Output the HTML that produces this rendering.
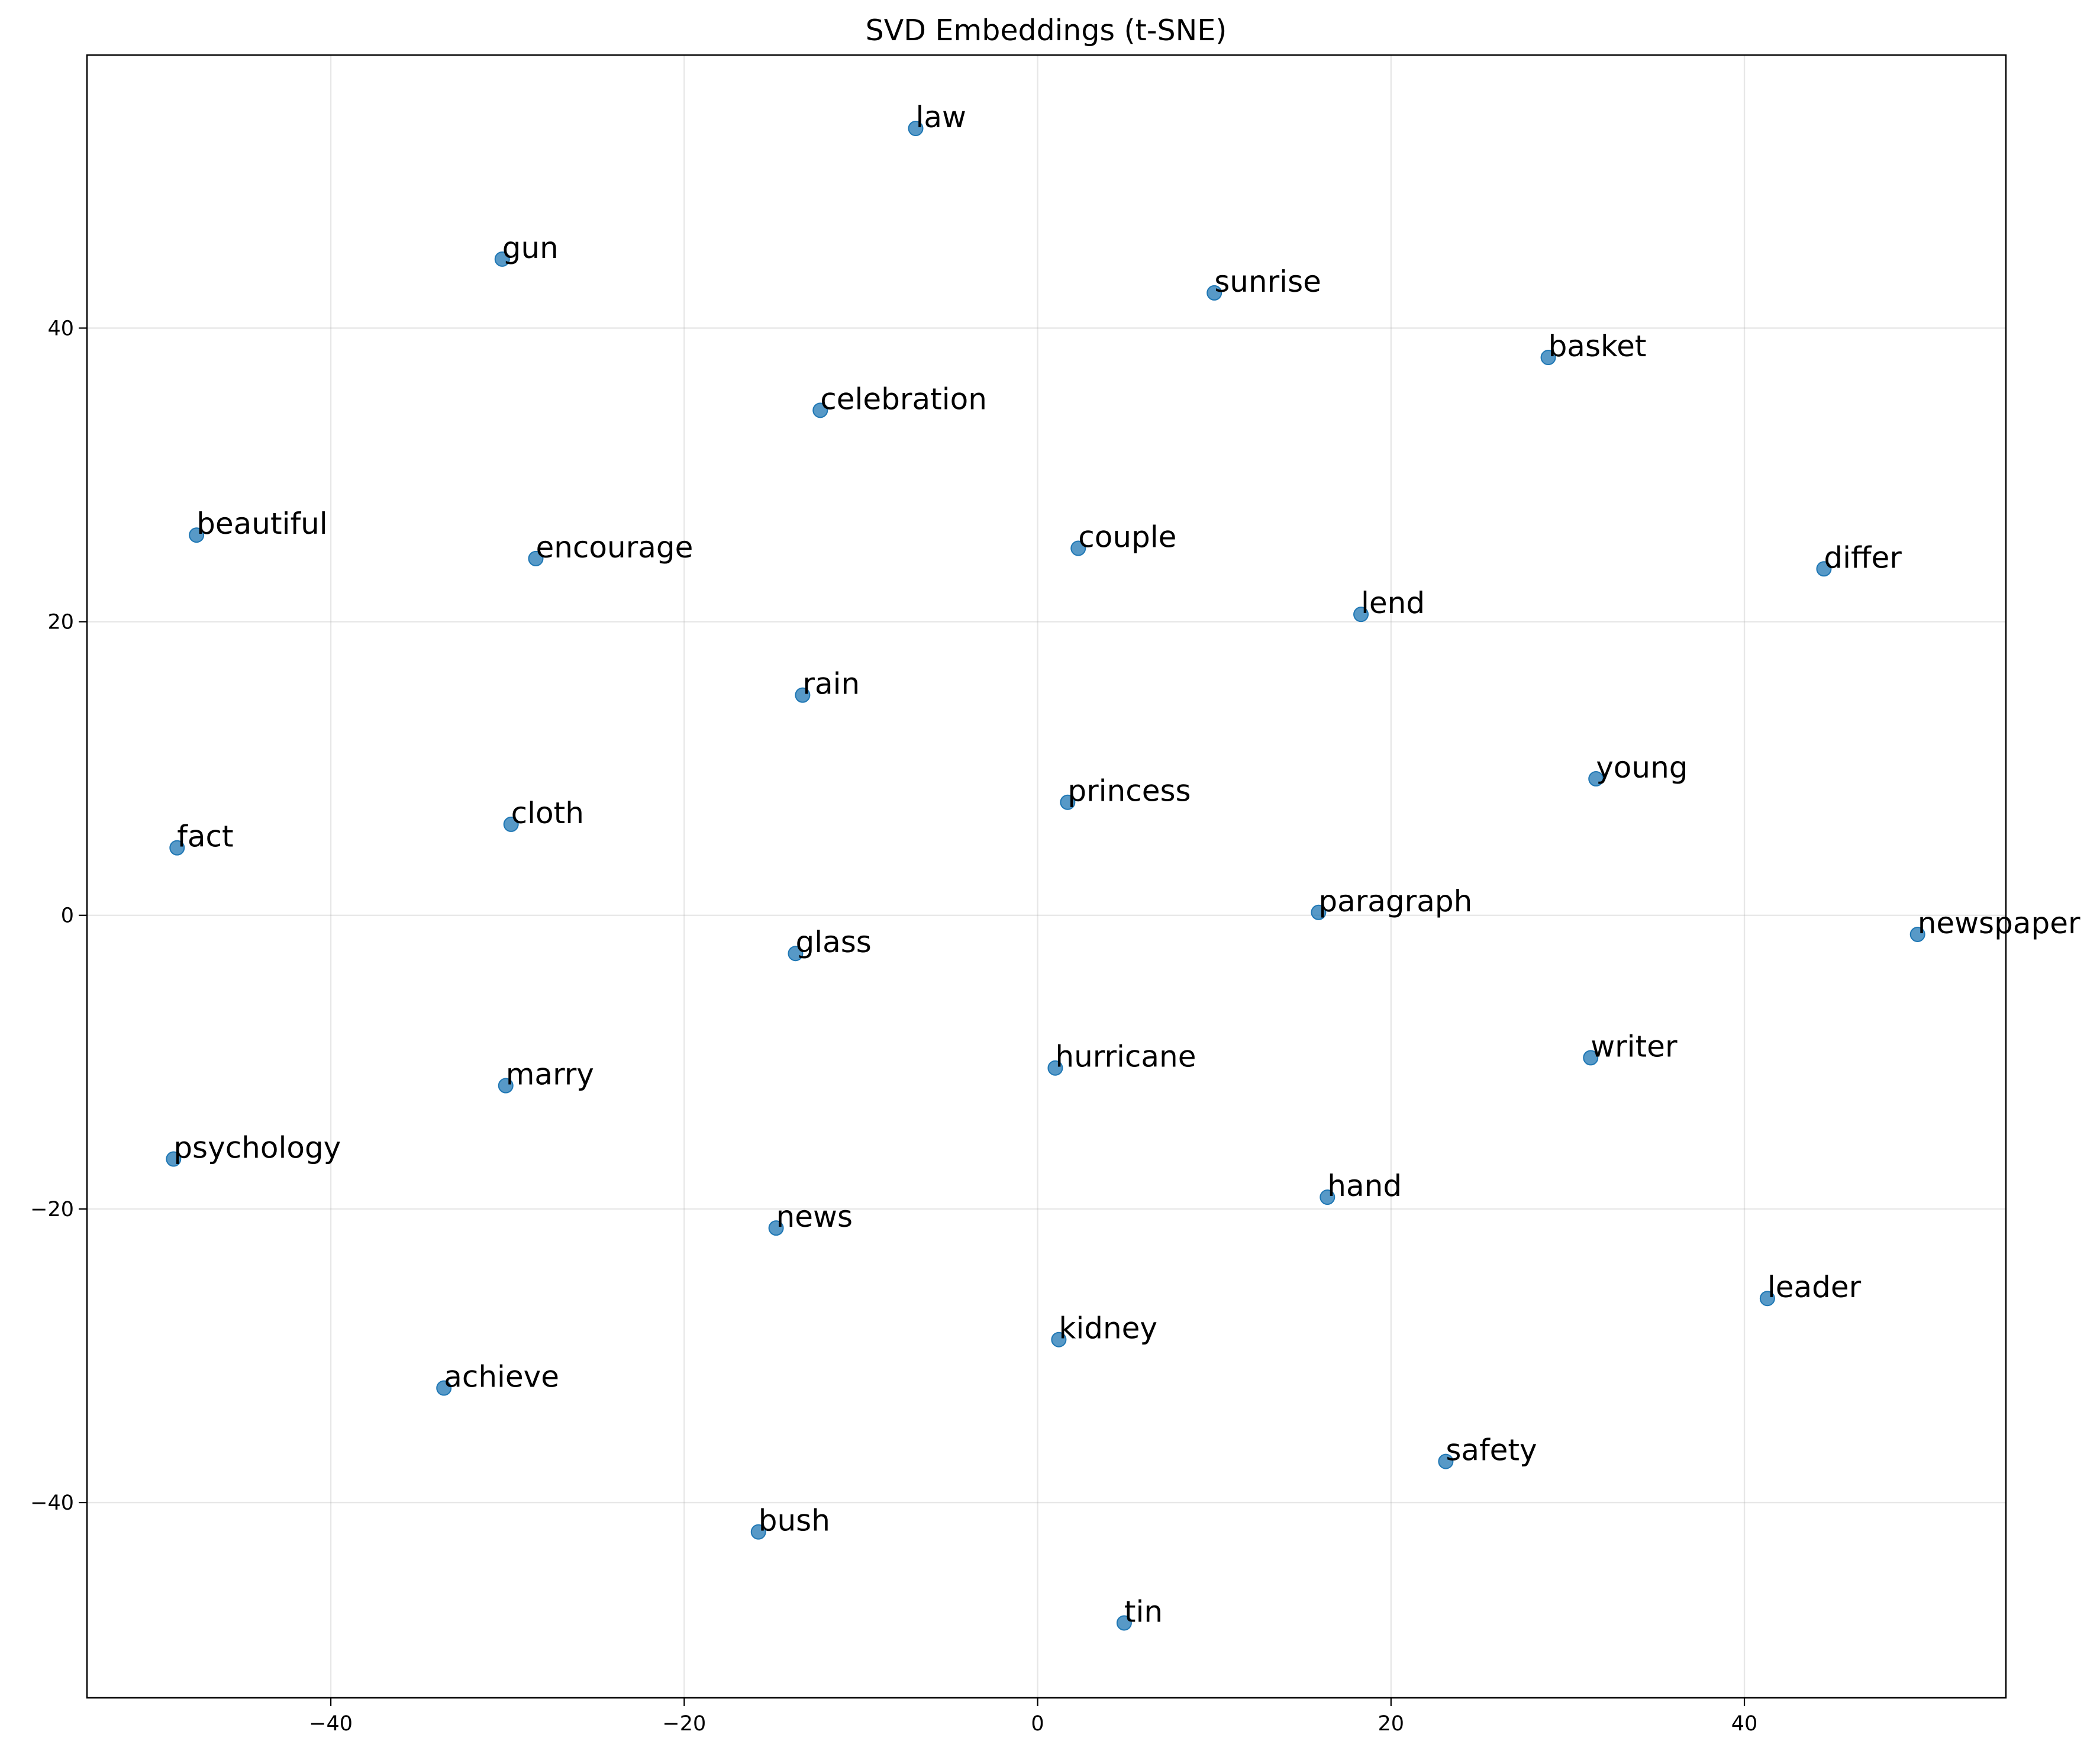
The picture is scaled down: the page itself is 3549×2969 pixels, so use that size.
<!DOCTYPE html>
<html><head><meta charset="utf-8"><style>
html,body{margin:0;padding:0;background:#fff}
svg{display:block}
text{font-family:"DejaVu Sans","Liberation Sans",sans-serif}
</style></head><body>
<svg id="chart" width="3549" height="2969" viewBox="0 0 3549 2969" xmlns="http://www.w3.org/2000/svg">
<text x="1768" y="68" font-size="49" text-anchor="middle">SVD Embeddings (t-SNE)</text>
<g id="grid"></g>
<g id="points"></g>
<g id="labels"></g>
<g id="axes"></g>
</svg>
<script>
const words = ["law","gun","sunrise","basket","celebration","beautiful","encourage","couple","differ","lend","rain","young","princess","cloth","fact","paragraph","newspaper","glass","writer","hurricane","marry","psychology","hand","news","leader","kidney","achieve","safety","bush","tin"];
const xs = [-6.9,-30.3,10.0,28.9,-12.3,-47.6,-28.4,2.3,44.5,18.3,-13.3,31.6,1.7,-29.8,-48.7,15.9,49.8,-13.7,31.3,1.0,-30.1,-48.9,16.4,-14.8,41.3,1.2,-33.6,23.1,-15.8,4.9];
const ys = [53.6,44.7,42.4,38.0,34.4,25.9,24.3,25.0,23.6,20.5,15.0,9.3,7.7,6.2,4.6,0.2,-1.3,-2.6,-9.7,-10.4,-11.6,-16.6,-19.2,-21.3,-26.1,-28.9,-32.2,-37.2,-42.0,-48.2];
const xTicks = [-40,-20,0,20,40];
const yTicks = [-40,-20,0,20,40];
const xDomain = [-53.8,54.8];
const yDomain = [-53.3,58.6];

const L=147,R=3390,T=93,B=2869;
const NS="http://www.w3.org/2000/svg";
function sx(v){return L+(v-xDomain[0])/(xDomain[1]-xDomain[0])*(R-L);}
function sy(v){return B-(v-yDomain[0])/(yDomain[1]-yDomain[0])*(B-T);}
function mk(tag,attrs,parent,txt){const e=document.createElementNS(NS,tag);for(const k in attrs)e.setAttribute(k,attrs[k]);if(txt!==undefined)e.textContent=txt;parent.appendChild(e);return e;}
const grid=document.getElementById('grid'),pts=document.getElementById('points'),lab=document.getElementById('labels'),axes=document.getElementById('axes');
xTicks.forEach(t=>{
  const g=mk('line',{x1:sx(t),x2:sx(t),y1:T,y2:B,stroke:'#b0b0b0','stroke-opacity':0.3,'stroke-width':2.3},grid);
  
  
  const tk=mk('line',{x1:sx(t),x2:sx(t),y1:B,y2:B+14,stroke:'#000','stroke-width':2.2},axes);
  
  
  const tl=mk('text',{x:sx(t),y:B+55,'font-size':35,'text-anchor':'middle'},axes,t<0?'\u2212'+Math.abs(t):String(t));
  
  
});
yTicks.forEach(t=>{
  const g=mk('line',{x1:L,x2:R,y1:sy(t),y2:sy(t),stroke:'#b0b0b0','stroke-opacity':0.3,'stroke-width':2.3},grid);
  
  
  const tk=mk('line',{x1:L-14,x2:L,y1:sy(t),y2:sy(t),stroke:'#000','stroke-width':2.2},axes);
  
  
  const tl=mk('text',{x:L-22,y:sy(t)+12,'font-size':35,'text-anchor':'end'},axes,t<0?'\u2212'+Math.abs(t):String(t));
  
  
});
const frame=mk('rect',{x:L,y:T,width:R-L,height:B-T,fill:'none',stroke:'#000','stroke-width':2.5},axes);


words.forEach((w,i)=>{
  const c=mk('circle',{cx:sx(xs[i]),cy:sy(ys[i]),r:12,fill:'#1f77b4','fill-opacity':0.75,stroke:'#1f77b4','stroke-width':2},pts);
  
  
  const t=mk('text',{x:sx(xs[i]),y:sy(ys[i])-2,'font-size':50},lab,w);
  
  
});
</script>
</body></html>
